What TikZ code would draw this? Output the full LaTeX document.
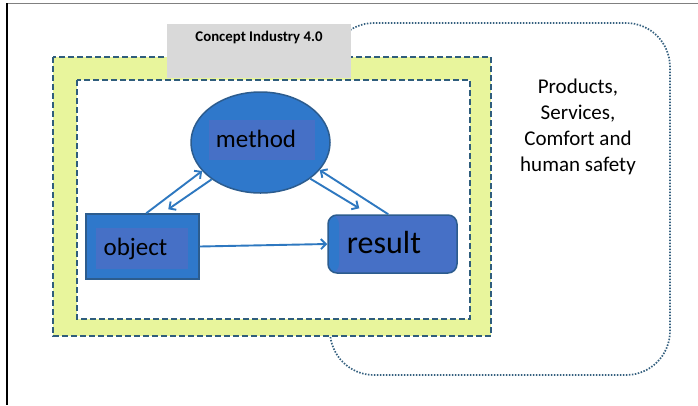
\documentclass[tikz,border=0pt]{standalone}
\usepackage{fontspec}
\setmainfont{Carlito}
\usetikzlibrary{shapes.geometric,arrows.meta}
\definecolor{yel}{HTML}{E8F59C}
\definecolor{dashc}{HTML}{2F5D7C}
\definecolor{dotc}{HTML}{35607F}
\definecolor{blA}{HTML}{2F78CB}
\definecolor{blB}{HTML}{4670C6}
\definecolor{bord}{HTML}{2C5C8E}
\definecolor{arrc}{HTML}{2E78C0}
\definecolor{grayb}{HTML}{D9D9D9}
\tikzset{
 dashbox/.style={draw=dashc, line width=2pt, dash pattern=on 6pt off 3pt},
 bluebox/.style={fill=blA, draw=bord, line width=1.5pt, inner sep=0},
 inbox/.style={fill=blB},
 lbl/.style={font=\fontsize{25}{30}\selectfont, anchor=base, inner sep=0},
 arr/.style={draw=arrc, line width=1.9pt, -{Straight Barb[length=5pt,width=10pt]}},
}
\begin{document}
\begin{tikzpicture}[x=1pt,y=-1pt]
\useasboundingbox (0,0) rectangle (698,405);
% frame lines
\draw[gray, line width=1pt] (7,3) -- (698,3);
\draw[black, line width=1.2pt] (7,3) -- (7,405);
% dotted rounded rectangle
\draw[dotc, line width=1.7pt, dash pattern=on 1.5pt off 1.5pt, rounded corners=44pt] (330,23) rectangle (670,375);
% yellow frame
\path[dashbox, fill=yel] (53,57) rectangle (491,336);
\path[dashbox, fill=white] (77,80) rectangle (470,319);
% gray title box
\node[fill=grayb, minimum width=184pt, minimum height=54pt, inner sep=0, anchor=north west] (title) at (167,24) {};
\node[font=\bfseries\fontsize{14.8}{17}\selectfont, anchor=base, inner sep=0] (titletxt) at (259,41) {Concept Industry 4.0};
% right text
\node[font=\fontsize{21}{26}\selectfont, align=center, inner sep=0] (prod) at (578,127) {Products,\\Services,\\Comfort and\\human safety};
% method
\node[ellipse, bluebox, minimum width=139pt, minimum height=101pt] (method) at (260.5,142.5) {};
\fill[inbox] (209,120) rectangle (315,160);
\node[lbl] (methodtxt) at (256,147) {method};
% object
\node[bluebox, minimum width=113pt, minimum height=65pt] (obj) at (142.5,246.5) {};
\fill[inbox] (96,228) rectangle (188,269);
\node[lbl] (objtxt) at (135.5,255) {object};
% result
\node[fill=blB, draw=bord, line width=1.5pt, inner sep=0, rounded corners=9pt, minimum width=129pt, minimum height=58pt,
  path picture={\fill[blA] (path picture bounding box.north west) rectangle ([xshift=11pt]path picture bounding box.south west);}] (res) at (392.5,244) {};
\node[lbl, font=\fontsize{32}{38}\selectfont] (restxt) at (384,253) {result};
% arrows
\draw[arr] ([xshift=61pt]obj.north west) -- (method.206);
\draw[arr] (method.217) -- ([xshift=83pt,yshift=4pt]obj.north west);
\draw[arr] (method.324) -- ([xshift=32pt,yshift=6pt]res.north west);
\draw[arr] ([xshift=61pt]res.north west) -- (method.335);
\draw[arr] (obj.east) -- (res.west);
\end{tikzpicture}
\end{document}
